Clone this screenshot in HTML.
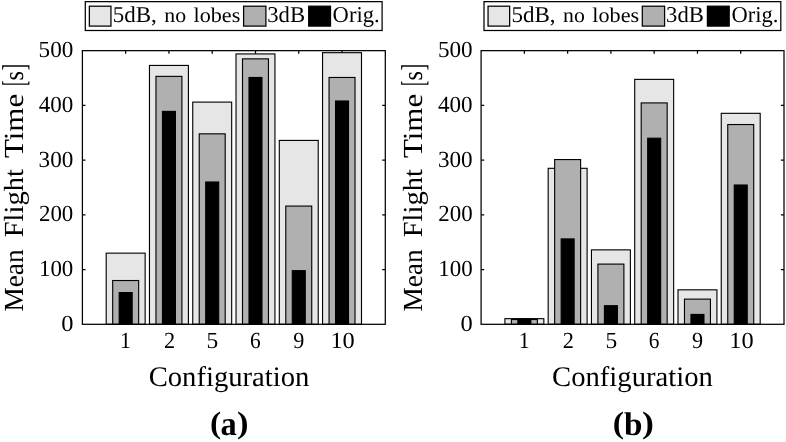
<!DOCTYPE html>
<html><head><meta charset="utf-8"><title>Mean Flight Time</title>
<style>
html,body{margin:0;padding:0;background:#fff;}
body{width:786px;height:442px;overflow:hidden;}
svg{display:block;}
text{text-rendering:geometricPrecision;font-family:"Liberation Serif","DejaVu Serif",serif;fill:#000;}
.t{font-size:23.1px;}
.l{font-size:27.6px;}
.g{font-size:22.7px;}
.b{font-size:33.0px;}
.c{font-size:34.0px;font-weight:bold;}
</style></head><body>
<svg width="786" height="442" viewBox="0 0 786 442">
<rect width="786" height="442" fill="#fff"/>
<g transform="translate(0,0)">
<path d="M125.67 50.65v3.1M168.94 50.65v3.1M212.21 50.65v3.1M255.49 50.65v3.1M298.76 50.65v3.1M342.03 50.65v3.1M82.4 269.57h3.1M385.3 269.57h-3.1M82.4 214.84h3.1M385.3 214.84h-3.1M82.4 160.11h3.1M385.3 160.11h-3.1M82.4 105.38h3.1M385.3 105.38h-3.1" stroke="#000" stroke-width="1.25" fill="none"/>
<rect x="106.20" y="253.15" width="38.94" height="71.15" fill="#e6e6e6" stroke="#000" stroke-width="1.12"/>
<rect x="112.69" y="280.52" width="25.96" height="43.78" fill="#b0b0b0" stroke="#000" stroke-width="1.12"/>
<rect x="119.18" y="292.56" width="12.98" height="31.74" fill="#000" stroke="#000" stroke-width="1.12"/>
<rect x="149.47" y="65.43" width="38.94" height="258.87" fill="#e6e6e6" stroke="#000" stroke-width="1.12"/>
<rect x="155.96" y="76.37" width="25.96" height="247.93" fill="#b0b0b0" stroke="#000" stroke-width="1.12"/>
<rect x="162.45" y="111.40" width="12.98" height="212.90" fill="#000" stroke="#000" stroke-width="1.12"/>
<rect x="192.74" y="102.10" width="38.94" height="222.20" fill="#e6e6e6" stroke="#000" stroke-width="1.12"/>
<rect x="199.23" y="133.84" width="25.96" height="190.46" fill="#b0b0b0" stroke="#000" stroke-width="1.12"/>
<rect x="205.72" y="182.00" width="12.98" height="142.30" fill="#000" stroke="#000" stroke-width="1.12"/>
<rect x="236.01" y="53.93" width="38.94" height="270.37" fill="#e6e6e6" stroke="#000" stroke-width="1.12"/>
<rect x="242.50" y="58.86" width="25.96" height="265.44" fill="#b0b0b0" stroke="#000" stroke-width="1.12"/>
<rect x="248.99" y="77.47" width="12.98" height="246.83" fill="#000" stroke="#000" stroke-width="1.12"/>
<rect x="279.29" y="140.41" width="38.94" height="183.89" fill="#e6e6e6" stroke="#000" stroke-width="1.12"/>
<rect x="285.78" y="206.08" width="25.96" height="118.22" fill="#b0b0b0" stroke="#000" stroke-width="1.12"/>
<rect x="292.27" y="270.66" width="12.98" height="53.64" fill="#000" stroke="#000" stroke-width="1.12"/>
<rect x="322.56" y="52.68" width="38.94" height="271.62" fill="#e6e6e6" stroke="#000" stroke-width="1.12"/>
<rect x="329.05" y="77.47" width="25.96" height="246.83" fill="#b0b0b0" stroke="#000" stroke-width="1.12"/>
<rect x="335.54" y="101.00" width="12.98" height="223.30" fill="#000" stroke="#000" stroke-width="1.12"/>
<rect x="82.4" y="50.65" width="302.90" height="273.65" fill="none" stroke="#000" stroke-width="1.25"/>
<rect x="85.3" y="1.65" width="296.80" height="28.85" fill="#fff" stroke="#000" stroke-width="1.25"/>
<rect x="89.35" y="6.2" width="21.6" height="19.9" fill="#e6e6e6" stroke="#000" stroke-width="1.25"/>
<rect x="243.6" y="6.2" width="22.3" height="19.9" fill="#b0b0b0" stroke="#000" stroke-width="1.25"/>
<rect x="308.7" y="6.2" width="21.8" height="19.9" fill="#000" stroke="#000" stroke-width="1.25"/>
</g>
<text transform="translate(61.14,331.25) scale(1.0588,1.0)" class="t">0</text>
<text transform="translate(38.91,276.35) scale(0.9930,1.0)" class="t">100</text>
<text transform="translate(38.98,221.45) scale(0.9908,1.0)" class="t">200</text>
<text transform="translate(38.62,166.55) scale(1.0017,1.0)" class="t">300</text>
<text transform="translate(38.74,111.65) scale(0.9980,1.0)" class="t">400</text>
<text transform="translate(38.62,56.75) scale(1.0017,1.0)" class="t">500</text>
<text transform="translate(119.89,347.90) scale(0.9466,1.0)" class="t">1</text>
<text transform="translate(163.90,347.90) scale(0.9646,1.0)" class="t">2</text>
<text transform="translate(206.60,347.90) scale(1.0159,1.0)" class="t">5</text>
<text transform="translate(249.97,347.90) scale(0.9267,1.0)" class="t">6</text>
<text transform="translate(293.21,347.90) scale(0.9598,1.0)" class="t">9</text>
<text transform="translate(330.40,347.90) scale(1.0548,1.0)" class="t">10</text>
<text transform="translate(148.70,385.60) scale(1.0378,1.03)" class="l">Configuration</text>
<text transform="translate(23.10,311.53) rotate(-90) scale(0.9886,1.0)" class="l">Mean</text>
<text transform="translate(23.10,237.35) rotate(-90) scale(1.0348,1.0)" class="l">Flight</text>
<text transform="translate(23.10,158.08) rotate(-90) scale(1.1220,1.0)" class="l">Time</text>
<text transform="translate(23.10,80.56) rotate(-90) scale(0.8834,1.0)" class="l">s</text>
<text transform="translate(24.70,85.73) rotate(-90) scale(0.4525,1.0)" class="b">[</text>
<text transform="translate(24.70,70.53) rotate(-90) scale(0.6077,1.0)" class="b">]</text>
<text transform="translate(112.72,21.70) scale(1.0138,1.0)" class="g">5dB,</text>
<text transform="translate(164.26,21.60) scale(0.9614,0.92)" class="g">no</text>
<text transform="translate(193.55,21.60) scale(0.9769,0.92)" class="g">lobes</text>
<text transform="translate(267.24,21.70) scale(0.9993,1.0)" class="g">3dB</text>
<text transform="translate(332.59,21.70) scale(0.9943,1.0)" class="g">Orig.</text>
<text transform="translate(210.06,432.95) scale(0.9830,0.91)" class="c">(</text>
<text transform="translate(220.59,434.60) scale(0.9537,1.0)" class="c">a</text>
<text transform="translate(237.12,432.95) scale(1.0187,0.91)" class="c">)</text>
<g transform="translate(398.7,0)">
<path d="M125.67 50.65v3.1M168.94 50.65v3.1M212.21 50.65v3.1M255.49 50.65v3.1M298.76 50.65v3.1M342.03 50.65v3.1M82.4 269.57h3.1M385.3 269.57h-3.1M82.4 214.84h3.1M385.3 214.84h-3.1M82.4 160.11h3.1M385.3 160.11h-3.1M82.4 105.38h3.1M385.3 105.38h-3.1" stroke="#000" stroke-width="1.25" fill="none"/>
<rect x="106.20" y="318.66" width="38.94" height="5.64" fill="#e6e6e6" stroke="#000" stroke-width="1.12"/>
<rect x="112.69" y="319.54" width="25.96" height="4.76" fill="#b0b0b0" stroke="#000" stroke-width="1.12"/>
<rect x="119.18" y="318.94" width="12.98" height="5.36" fill="#000" stroke="#000" stroke-width="1.12"/>
<rect x="149.47" y="168.32" width="38.94" height="155.98" fill="#e6e6e6" stroke="#000" stroke-width="1.12"/>
<rect x="155.96" y="159.56" width="25.96" height="164.74" fill="#b0b0b0" stroke="#000" stroke-width="1.12"/>
<rect x="162.45" y="238.92" width="12.98" height="85.38" fill="#000" stroke="#000" stroke-width="1.12"/>
<rect x="192.74" y="249.87" width="38.94" height="74.43" fill="#e6e6e6" stroke="#000" stroke-width="1.12"/>
<rect x="199.23" y="264.10" width="25.96" height="60.20" fill="#b0b0b0" stroke="#000" stroke-width="1.12"/>
<rect x="205.72" y="305.69" width="12.98" height="18.61" fill="#000" stroke="#000" stroke-width="1.12"/>
<rect x="236.01" y="79.38" width="38.94" height="244.92" fill="#e6e6e6" stroke="#000" stroke-width="1.12"/>
<rect x="242.50" y="102.92" width="25.96" height="221.38" fill="#b0b0b0" stroke="#000" stroke-width="1.12"/>
<rect x="248.99" y="138.22" width="12.98" height="186.08" fill="#000" stroke="#000" stroke-width="1.12"/>
<rect x="279.29" y="289.82" width="38.94" height="34.48" fill="#e6e6e6" stroke="#000" stroke-width="1.12"/>
<rect x="285.78" y="299.12" width="25.96" height="25.18" fill="#b0b0b0" stroke="#000" stroke-width="1.12"/>
<rect x="292.27" y="314.45" width="12.98" height="9.85" fill="#000" stroke="#000" stroke-width="1.12"/>
<rect x="322.56" y="113.32" width="38.94" height="210.98" fill="#e6e6e6" stroke="#000" stroke-width="1.12"/>
<rect x="329.05" y="124.54" width="25.96" height="199.76" fill="#b0b0b0" stroke="#000" stroke-width="1.12"/>
<rect x="335.54" y="185.01" width="12.98" height="139.29" fill="#000" stroke="#000" stroke-width="1.12"/>
<rect x="82.4" y="50.65" width="302.90" height="273.65" fill="none" stroke="#000" stroke-width="1.25"/>
<rect x="85.3" y="1.65" width="296.80" height="28.85" fill="#fff" stroke="#000" stroke-width="1.25"/>
<rect x="89.35" y="6.2" width="21.6" height="19.9" fill="#e6e6e6" stroke="#000" stroke-width="1.25"/>
<rect x="243.6" y="6.2" width="22.3" height="19.9" fill="#b0b0b0" stroke="#000" stroke-width="1.25"/>
<rect x="308.7" y="6.2" width="21.8" height="19.9" fill="#000" stroke="#000" stroke-width="1.25"/>
</g>
<text transform="translate(460.44,331.25) scale(1.0588,1.0)" class="t">0</text>
<text transform="translate(438.21,276.35) scale(0.9930,1.0)" class="t">100</text>
<text transform="translate(438.28,221.45) scale(0.9908,1.0)" class="t">200</text>
<text transform="translate(437.92,166.55) scale(1.0017,1.0)" class="t">300</text>
<text transform="translate(438.04,111.65) scale(0.9980,1.0)" class="t">400</text>
<text transform="translate(437.92,56.75) scale(1.0017,1.0)" class="t">500</text>
<text transform="translate(518.79,347.90) scale(0.9466,1.0)" class="t">1</text>
<text transform="translate(562.80,347.90) scale(0.9646,1.0)" class="t">2</text>
<text transform="translate(605.50,347.90) scale(1.0159,1.0)" class="t">5</text>
<text transform="translate(648.87,347.90) scale(0.9267,1.0)" class="t">6</text>
<text transform="translate(692.11,347.90) scale(0.9598,1.0)" class="t">9</text>
<text transform="translate(729.30,347.90) scale(1.0548,1.0)" class="t">10</text>
<text transform="translate(552.10,385.60) scale(1.0378,1.03)" class="l">Configuration</text>
<text transform="translate(422.10,311.53) rotate(-90) scale(0.9886,1.0)" class="l">Mean</text>
<text transform="translate(422.10,237.35) rotate(-90) scale(1.0348,1.0)" class="l">Flight</text>
<text transform="translate(422.10,158.08) rotate(-90) scale(1.1220,1.0)" class="l">Time</text>
<text transform="translate(422.10,80.56) rotate(-90) scale(0.8834,1.0)" class="l">s</text>
<text transform="translate(423.70,85.73) rotate(-90) scale(0.4525,1.0)" class="b">[</text>
<text transform="translate(423.70,70.53) rotate(-90) scale(0.6077,1.0)" class="b">]</text>
<text transform="translate(511.52,21.70) scale(1.0138,1.0)" class="g">5dB,</text>
<text transform="translate(563.06,21.60) scale(0.9614,0.92)" class="g">no</text>
<text transform="translate(592.35,21.60) scale(0.9769,0.92)" class="g">lobes</text>
<text transform="translate(666.04,21.70) scale(0.9993,1.0)" class="g">3dB</text>
<text transform="translate(731.39,21.70) scale(0.9943,1.0)" class="g">Orig.</text>
<text transform="translate(612.64,432.95) scale(0.9935,0.91)" class="c">(</text>
<text transform="translate(624.10,434.60) scale(0.9754,0.97)" class="c">b</text>
<text transform="translate(641.98,432.95) scale(1.0519,0.91)" class="c">)</text>
</svg>
</body></html>
